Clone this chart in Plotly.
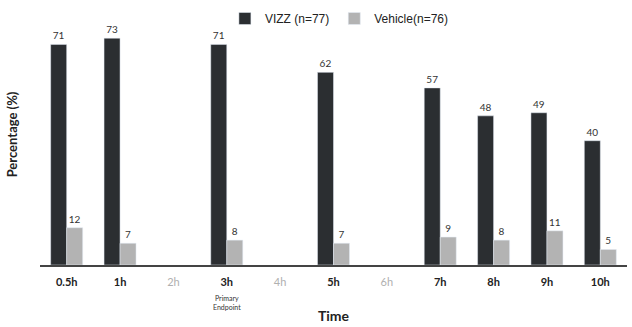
import plotly.graph_objects as go

categories = ["0.5h", "1h", "2h", "3h", "4h", "5h", "6h", "7h", "8h", "9h", "10h"]
vizz = [71, 73, None, 71, None, 62, None, 57, 48, 49, 40]
vehicle = [12, 7, None, 8, None, 7, None, 9, 8, 11, 5]
muted = {"2h", "4h", "6h"}

ticktext = [
    f'<span style="color:#b0b0b0">{c}</span>' if c in muted else f"<b>{c}</b>"
    for c in categories
]

fig = go.Figure()
fig.add_trace(go.Bar(
    x=categories, y=vizz, name="VIZZ (n=77)", marker_color="#2b2e31",
    text=[str(v) if v is not None else "" for v in vizz], textposition="outside",
    textfont=dict(size=10, color="#333"), cliponaxis=False,
))
fig.add_trace(go.Bar(
    x=categories, y=vehicle, name="Vehicle(n=76)", marker_color="#b3b3b3",
    text=[str(v) if v is not None else "" for v in vehicle], textposition="outside",
    textfont=dict(size=10, color="#333"), cliponaxis=False,
))

fig.add_annotation(
    x="3h", y=0, yref="y", text="Primary<br>Endpoint", showarrow=False,
    yanchor="top", yshift=-27, font=dict(size=7, color="#333"),
)

fig.update_layout(
    width=632, height=327,
    margin=dict(l=40, r=5, t=4, b=62, autoexpand=False),
    plot_bgcolor="white", paper_bgcolor="white",
    barmode="group", bargap=0.4, bargroupgap=0,
    font=dict(family="Lato, sans-serif", color="#222"),
    showlegend=True,
    legend=dict(orientation="h", x=0.315, y=1.0, xanchor="left", yanchor="top",
                font=dict(size=12, family="Liberation Sans, Arial"),
                bgcolor="rgba(0,0,0,0)", traceorder="normal"),
    xaxis=dict(
        tickmode="array", tickvals=categories, ticktext=ticktext,
        showline=True, linecolor="#444", linewidth=1.5,
        ticks="", tickfont=dict(size=11, color="#222"), ticklabelstandoff=6,
        title=dict(text="<b>Time</b>", font=dict(size=14), standoff=24),
    ),
    yaxis=dict(
        range=[0, 84], showticklabels=False, showgrid=False, zeroline=False,
        ticks="",
        title=dict(text="<b>Percentage (%)</b>", font=dict(size=13), standoff=18),
    ),
)

fig.write_html("out.html")
